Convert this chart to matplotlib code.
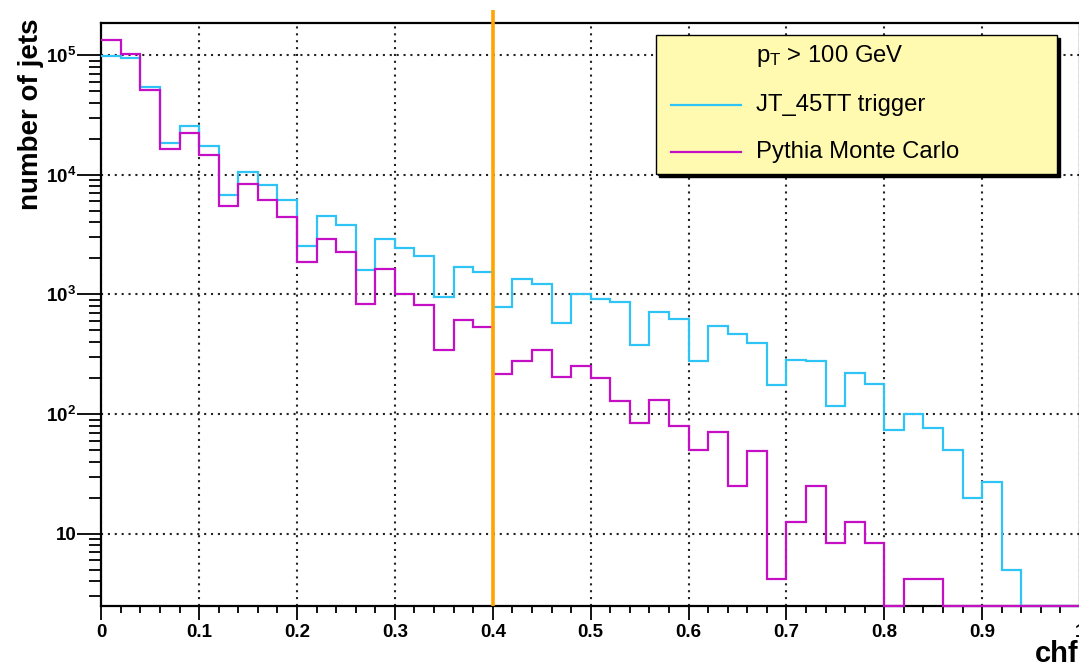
import numpy as np
import matplotlib
matplotlib.use("Agg")
import matplotlib.pyplot as plt
from matplotlib.patches import Rectangle
from matplotlib.lines import Line2D
from matplotlib.ticker import FixedLocator, FixedFormatter, MultipleLocator, NullFormatter
import matplotlib.transforms as mtransforms

# ---- data: charged hadron fraction of jets, 50 bins in [0, 1] ----
bin_edges = np.linspace(0.0, 1.0, 51)

trigger_counts = [
    9.8e4, 9.5e4, 5.4e4, 1.83e4, 2.55e4, 1.74e4, 6.8e3, 1.06e4, 8.2e3, 6.2e3,
    2.55e3, 4.5e3, 3.8e3, 1.61e3, 2.92e3, 2.45e3, 2.1e3, 957, 1.68e3, 1.54e3,
    789, 1.35e3, 1.22e3, 577, 1000, 916, 860, 376, 716, 619,
    276, 545, 467, 393, 175, 285, 276, 117, 220, 177,
    74, 100, 76, 50.5, 20, 27, 5.0, 0, 0, 0,
]

pythia_counts = [
    1.33e5, 1.02e5, 5.07e4, 1.65e4, 2.23e4, 1.45e4, 5.48e3, 8.4e3, 6.2e3, 4.4e3,
    1.87e3, 2.88e3, 2.25e3, 826, 1.62e3, 1.0e3, 811, 344, 611, 535,
    218, 276, 341, 205, 251, 200, 129, 84, 132, 80,
    50, 70.5, 25.2, 49, 4.2, 12.5, 25, 8.4, 12.5, 8.3,
    0, 4.2, 4.2, 0, 0, 0, 0, 0, 0, 0,
]

cut_value = 0.4
legend_header = r"$\mathregular{p_{T}}$ > 100 GeV"
series_labels = ["JT_45TT trigger", "Pythia Monte Carlo"]
y_major = [10, 1e2, 1e3, 1e4, 1e5]
y_major_labels = ["10", r"$\mathregular{10^{2}}$", r"$\mathregular{10^{3}}$",
                  r"$\mathregular{10^{4}}$", r"$\mathregular{10^{5}}$"]
x_major = [0, 0.1, 0.2, 0.3, 0.4, 0.5, 0.6, 0.7, 0.8, 0.9, 1.0]
x_major_labels = ["0", "0.1", "0.2", "0.3", "0.4", "0.5", "0.6", "0.7", "0.8", "0.9", "1"]

# ---- style ----
col_trigger = "#2ec4f5"
col_pythia = "#c40fc4"
col_cut = "#ffa500"
bold_font = "Liberation Sans"

W, H = 1079, 667
fig = plt.figure(figsize=(W / 100, H / 100), dpi=100)
fig.patch.set_facecolor("white")

ax_l, ax_r, ax_t, ax_b = 101.3, 1080.0, 22.7, 606.0
ax = fig.add_axes([ax_l / W, 1 - ax_b / H, (ax_r - ax_l) / W, (ax_b - ax_t) / H])
ax.set_yscale("log")
ymin, ymax = 2.49, 1.863e5
ax.set_xlim(0, 1)
ax.set_ylim(ymin, ymax)

# histograms: empty bins rest on the lower edge of the log axis
for counts, col in [(trigger_counts, col_trigger), (pythia_counts, col_pythia)]:
    vals = np.maximum(np.asarray(counts, dtype=float), ymin)
    ax.stairs(vals, bin_edges, baseline=None, color=col, lw=1.6,
              clip_on=False, zorder=3)

# vertical cut line, reaching slightly above the frame
trans = mtransforms.blended_transform_factory(ax.transData, ax.transAxes)
ax.plot([cut_value, cut_value], [0, 1.022], transform=trans, color=col_cut,
        lw=2.6, clip_on=False, zorder=5, solid_capstyle="butt")

# grid
ax.grid(True, which="major", color="#222222", linestyle=(0, (1, 2.3)), lw=1.5)
ax.set_axisbelow(True)

# axes frame
for s in ax.spines.values():
    s.set_linewidth(1.6)
    s.set_color("black")

# ticks
ax.xaxis.set_major_locator(FixedLocator(x_major))
ax.xaxis.set_major_formatter(FixedFormatter(x_major_labels))
ax.xaxis.set_minor_locator(MultipleLocator(0.02))
ax.yaxis.set_major_locator(FixedLocator(y_major))
ax.yaxis.set_major_formatter(FixedFormatter(y_major_labels))
minor_y = [m * 10 ** e for e in range(0, 6) for m in range(2, 10)]
ax.yaxis.set_minor_locator(FixedLocator([v for v in minor_y if ymin <= v <= ymax]))
ax.yaxis.set_minor_formatter(NullFormatter())

ax.tick_params(axis="x", which="major", direction="out", length=10, width=1.3,
               pad=3, labelsize=13.5)
ax.tick_params(axis="x", which="minor", direction="out", length=5, width=1.3)
ax.tick_params(axis="y", which="major", direction="out", length=17, width=1.3,
               pad=1, labelsize=13.5)
ax.tick_params(axis="y", which="minor", direction="out", length=8.5, width=1.3)
ax.tick_params(top=False, right=False, which="both")
for lab in ax.get_xticklabels() + ax.get_yticklabels():
    lab.set_fontfamily(bold_font)
    lab.set_fontweight("bold")

# axis titles (ROOT style: placed at the end of each axis)
fig.text(31 / W, 1 - 18 / H, "number of jets", rotation=90, ha="center", va="top",
         fontsize=20, fontweight="bold", fontfamily=bold_font)
fig.text(1079 / W, 1 - 654 / H, "chf", ha="right", va="center",
         fontsize=21, fontweight="bold", fontfamily=bold_font)

# legend box with shadow
lx0, lx1, ly0, ly1 = 656, 1057, 35, 174
sh = 3
fig.patches.append(Rectangle(((lx0 + sh) / W, 1 - (ly1 + sh) / H), (lx1 - lx0) / W,
                             (ly1 - ly0) / H, transform=fig.transFigure,
                             facecolor="black", edgecolor="black", zorder=10))
fig.patches.append(Rectangle((lx0 / W, 1 - ly1 / H), (lx1 - lx0) / W, (ly1 - ly0) / H,
                             transform=fig.transFigure, facecolor="#fffab0",
                             edgecolor="black", lw=1.0, zorder=11))
leg_font = dict(fontsize=17.2, fontfamily="Liberation Sans", va="center", ha="left",
                zorder=12)
fig.text(756 / W, 1 - 56 / H, legend_header, **leg_font)
for label, col, yy in [(series_labels[0], col_trigger, 105),
                       (series_labels[1], col_pythia, 152)]:
    fig.lines.append(Line2D([671 / W, 741 / W], [1 - yy / H, 1 - yy / H],
                            transform=fig.transFigure, color=col, lw=1.6, zorder=12))
    fig.text(756 / W, 1 - yy / H, label, **leg_font)

fig.savefig("out.png", dpi=100)
